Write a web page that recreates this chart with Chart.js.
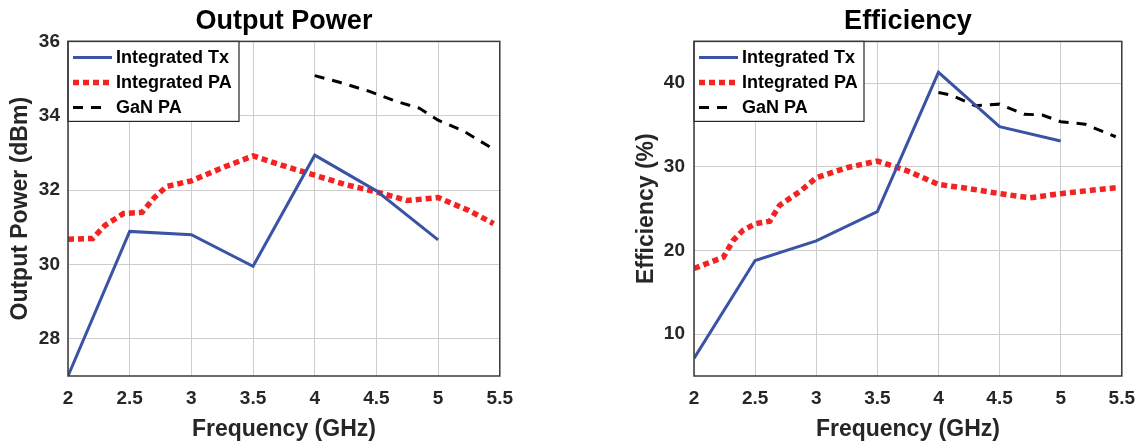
<!DOCTYPE html>
<html><head><meta charset="utf-8">
<script src="https://cdn.jsdelivr.net/npm/chart.js@4/dist/chart.umd.min.js"></script>
<style>
html,body{margin:0;padding:0;background:#fff;width:1146px;height:444px;overflow:hidden}
canvas{position:absolute;top:0}
#c1{left:0}
#c2{left:620px}
</style></head><body>
<canvas id="c1" width="524" height="444"></canvas>
<canvas id="c2" width="526" height="444"></canvas>
<script>
// ---- data ----
const xTicks = [2, 2.5, 3, 3.5, 4, 4.5, 5, 5.5];
const seriesLabels = ['Integrated Tx', 'Integrated PA', 'GaN PA'];

// Output Power (dBm)
const powerTicks = [28, 30, 32, 34, 36];
const powerTxFreq = [2, 2.5, 3, 3.5, 4, 4.5, 5];
const powerTx = [27.0, 30.89, 30.8, 29.95, 32.94, 31.98, 30.66];
const powerPAFreq = [2.0, 2.2, 2.3, 2.45, 2.6, 2.7, 2.8, 3.0, 3.25, 3.5, 3.75, 4.0, 4.25, 4.5, 4.75, 5.0, 5.25, 5.45];
const powerPA = [30.68, 30.7, 31.05, 31.37, 31.4, 31.8, 32.1, 32.25, 32.6, 32.92, 32.65, 32.4, 32.15, 31.95, 31.72, 31.8, 31.45, 31.1];
const powerGaNFreq = [4.0, 4.2, 4.45, 4.65, 4.85, 5.0, 5.2, 5.45];
const powerGaN = [35.08, 34.9, 34.65, 34.4, 34.2, 33.88, 33.6, 33.1];

// Efficiency (%)
const effTicks = [10, 20, 30, 40];
const effTxFreq = [2, 2.5, 3, 3.5, 4, 4.5, 5];
const effTx = [7.1, 18.8, 21.15, 24.65, 41.3, 34.8, 33.1];
const effPAFreq = [2.0, 2.24, 2.32, 2.4, 2.5, 2.62, 2.7, 2.87, 3.0, 3.25, 3.5, 3.75, 4.0, 4.25, 4.5, 4.75, 5.0, 5.25, 5.45];
const effPA = [17.85, 19.2, 21.2, 22.4, 23.2, 23.5, 25.4, 27.1, 28.7, 29.9, 30.7, 29.5, 27.9, 27.4, 26.8, 26.3, 26.8, 27.2, 27.5];
const effGaNFreq = [4.0, 4.1, 4.3, 4.5, 4.7, 4.85, 5.0, 5.2, 5.45];
const effGaN = [38.9, 38.6, 37.3, 37.5, 36.3, 36.2, 35.4, 35.1, 33.6];

// ---- styling / helpers ----
const FONT = '"Liberation Sans", Arial, sans-serif';
const TXT = '#262626';
const pts = (xs, ys) => xs.map((x, i) => ({x, y: ys[i]}));
const legendLen = [39, 39, 31];

const frame = {
  id: 'frame',
  afterDatasetsDraw(chart, args, o) {
    const {ctx, chartArea: a} = chart;
    ctx.save();
    // legend box
    const x0 = a.left, y0 = a.top, w = o.legendW, h = o.legendH;
    ctx.fillStyle = '#fff';
    ctx.fillRect(x0, y0, w, h);
    ctx.strokeStyle = '#262626';
    ctx.lineWidth = 1.2;
    ctx.strokeRect(x0, y0, w, h);
    chart.data.datasets.forEach((ds, i) => {
      const y = y0 + 16 + i * 25;
      ctx.beginPath();
      ctx.setLineDash(ds.borderDash || []);
      ctx.lineCap = 'butt';
      ctx.lineWidth = ds.borderWidth;
      ctx.strokeStyle = ds.borderColor;
      ctx.moveTo(x0 + 5, y);
      ctx.lineTo(x0 + 5 + legendLen[i], y);
      ctx.stroke();
      ctx.setLineDash([]);
      ctx.fillStyle = '#000';
      ctx.font = 'bold 18px ' + FONT;
      ctx.textBaseline = 'middle';
      ctx.textAlign = 'left';
      ctx.fillText(ds.label, x0 + 48, y + 1);
    });
    // plot frame
    ctx.strokeStyle = '#3a3a3a';
    ctx.lineWidth = 1.5;
    ctx.strokeRect(a.left, a.top, a.right - a.left, a.bottom - a.top);
    ctx.restore();
  }
};

function makeChart(id, cfg) {
  return new Chart(document.getElementById(id), {
    type: 'line',
    data: {
      datasets: [
        {label: seriesLabels[0], data: pts(cfg.txF, cfg.tx), borderColor: '#3a53a4', borderWidth: 3, pointRadius: 0, tension: 0},
        {label: seriesLabels[1], data: pts(cfg.paF, cfg.pa), borderColor: '#f52222', borderWidth: 5.5, borderDash: [6, 4], borderCapStyle: 'butt', pointRadius: 0, tension: 0},
        {label: seriesLabels[2], data: pts(cfg.ganF, cfg.gan), borderColor: '#000000', borderWidth: 3, borderDash: [10, 8], pointRadius: 0, tension: 0}
      ]
    },
    options: {
      responsive: false,
      animation: false,
      layout: {padding: {right: cfg.padRight, left: 0, top: 0, bottom: 0}},
      plugins: {
        legend: {display: false},
        tooltip: {enabled: false},
        title: {display: true, text: cfg.title, fullSize: false, color: '#000',
          font: {family: FONT, size: 27, weight: 'bold'}, padding: {top: 5, bottom: 4}},
        frame: {legendW: cfg.legendW, legendH: 80}
      },
      scales: {
        x: {
          type: 'linear', min: 2, max: 5.5,
          afterBuildTicks: s => { s.ticks = xTicks.map(v => ({value: v})); },
          afterFit: s => { s.height = 68; },
          ticks: {color: TXT, padding: 11, font: {family: FONT, size: 19, weight: 'bold'}, callback: v => String(v)},
          grid: {color: '#cdcdcd', lineWidth: 1, drawTicks: false},
          border: {display: false},
          title: {display: true, text: 'Frequency (GHz)', color: TXT, padding: {top: 0, bottom: 1},
            font: {family: FONT, size: 23, weight: 'bold'}}
        },
        y: {
          min: cfg.yMin, max: cfg.yMax,
          afterBuildTicks: s => { s.ticks = cfg.yTicks.map(v => ({value: v})); },
          afterFit: s => { s.width = cfg.yWidth; },
          ticks: {color: TXT, padding: cfg.yTickPad, font: {family: FONT, size: 19, weight: 'bold'}, callback: v => String(v)},
          grid: {color: '#cdcdcd', lineWidth: 1, drawTicks: false},
          border: {display: false},
          title: {display: true, text: cfg.yTitle, color: TXT, padding: {top: cfg.yTitlePad, bottom: 0},
            font: {family: FONT, size: 23, weight: 'bold'}}
        }
      }
    },
    plugins: [frame]
  });
}

makeChart('c1', {
  title: 'Output Power', yTitle: 'Output Power (dBm)',
  txF: powerTxFreq, tx: powerTx, paF: powerPAFreq, pa: powerPA, ganF: powerGaNFreq, gan: powerGaN,
  yMin: 27, yMax: 36, yTicks: powerTicks, yWidth: 68, yTickPad: 8, yTitlePad: 7, padRight: 24, legendW: 171
});
makeChart('c2', {
  title: 'Efficiency', yTitle: 'Efficiency (%)',
  txF: effTxFreq, tx: effTx, paF: effPAFreq, pa: effPA, ganF: effGaNFreq, gan: effGaN,
  yMin: 5, yMax: 45, yTicks: effTicks, yWidth: 74, yTickPad: 9, yTitlePad: 13, padRight: 24, legendW: 170
});
</script>
</body></html>
